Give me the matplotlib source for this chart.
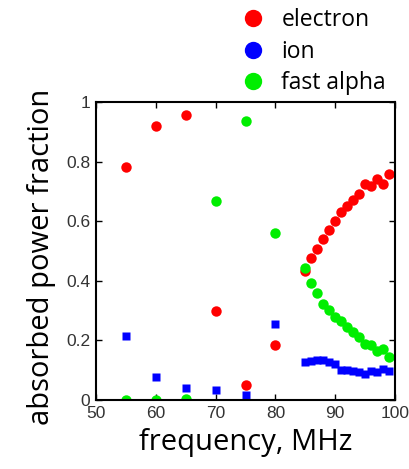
import matplotlib
matplotlib.use("Agg")
import matplotlib.pyplot as plt
from matplotlib.lines import Line2D

freq_low = [55, 60, 65, 70, 75, 80]
freq_high = [85, 86, 87, 88, 89, 90, 91, 92, 93, 94, 95, 96, 97, 98, 99]

electron_low = [0.782, 0.920, 0.955, 0.299, 0.049, 0.183]
electron_high = [0.433, 0.477, 0.507, 0.541, 0.572, 0.602, 0.632, 0.652, 0.672,
                 0.692, 0.724, 0.719, 0.743, 0.725, 0.758]
ion_low = [0.216, 0.078, 0.039, 0.034, 0.016, 0.256]
ion_high = [0.126, 0.130, 0.133, 0.134, 0.126, 0.120, 0.102, 0.102, 0.098,
            0.093, 0.088, 0.096, 0.094, 0.104, 0.096]
alpha_low = [0.0, 0.0, 0.005, 0.667, 0.936, 0.562]
alpha_high = [0.444, 0.394, 0.360, 0.322, 0.301, 0.280, 0.266, 0.246, 0.228,
              0.213, 0.189, 0.185, 0.166, 0.172, 0.144]

series_labels = ["electron", "ion", "fast alpha"]
colors = ["#ff0000", "#0000ff", "#00ee00"]
xticks = [50, 60, 70, 80, 90, 100]
yticks = [0, 0.2, 0.4, 0.6, 0.8, 1]
yticklabels = ["0", "0.2", "0.4", "0.6", "0.8", "1"]

fig = plt.figure(figsize=(4.09, 4.69), dpi=100)
ax = fig.add_axes([96/409, 69/469, 299/409, 298/469])

freqs = freq_low + freq_high
ax.plot(freqs, electron_low + electron_high, 'o', color=colors[0], ms=7.5, mec='none')
ax.plot(freqs, alpha_low + alpha_high, 'o', color=colors[2], ms=7.5, mec='none')
ax.plot(freqs, ion_low + ion_high, 's', color=colors[1], ms=5.8, mec='none')

ax.set_xlim(50, 100)
ax.set_ylim(0, 1)
ax.set_xticks(xticks)
ax.set_yticks(yticks)
ax.set_yticklabels(yticklabels)
ax.tick_params(direction='in', top=True, right=True, length=4, width=1,
               labelsize=12.5, pad=4)
for lab in ax.get_xticklabels() + ax.get_yticklabels():
    lab.set_family('Liberation Sans')
    lab.set_color('#333333')
for s in ax.spines.values():
    s.set_linewidth(1.5)

ax.set_xlabel("frequency, MHz", fontsize=21, family='Open Sans', labelpad=5)
ax.set_ylabel("absorbed power fraction", fontsize=21, family='Open Sans')
ax.yaxis.set_label_coords(-0.135, 0.48)

handles = [Line2D([], [], marker='o', ls='none', color=c, ms=12.5, mec='none') for c in colors]
fig.legend(handles, series_labels, loc='upper left', bbox_to_anchor=(0.59, 0.982),
           frameon=False, prop={'family': 'Open Sans', 'size': 16.5},
           handlelength=1.0, handletextpad=0.75, labelspacing=0.32,
           borderaxespad=0, borderpad=0)

fig.savefig("out.png", dpi=100)
